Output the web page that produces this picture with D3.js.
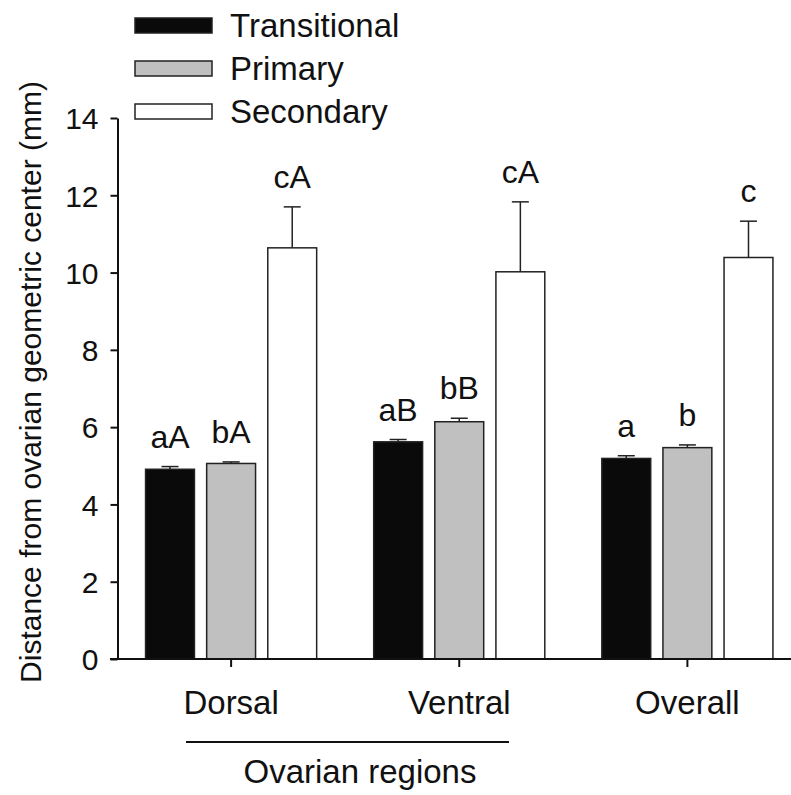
<!DOCTYPE html>
<html>
<head>
<meta charset="utf-8">
<script src="https://cdn.jsdelivr.net/npm/d3@7"></script>
<style>
  body { margin: 0; background: #fff; }
  text { font-family: "Liberation Sans", Arial, sans-serif; fill: #111; }
</style>
</head>
<body>
<script>
var regions = ["Dorsal", "Ventral", "Overall"];
var series = ["Transitional", "Primary", "Secondary"];
var colors = ["#0a0a0a", "#c0c0c0", "#ffffff"];

// mean and SE per series, in region order
var transitional = [4.91, 5.62, 5.19];
var primary = [5.06, 6.14, 5.47];
var secondary = [10.64, 10.02, 10.39];
var transitionalErr = [0.07, 0.06, 0.07];
var primaryErr = [0.04, 0.09, 0.07];
var secondaryErr = [1.06, 1.81, 0.94];

var transitionalLbl = ["aA", "aB", "a"];
var primaryLbl = ["bA", "bB", "b"];
var secondaryLbl = ["cA", "cA", "c"];

var yTicks = [0, 2, 4, 6, 8, 10, 12, 14];

var values = [transitional, primary, secondary],
    errors = [transitionalErr, primaryErr, secondaryErr],
    labels = [transitionalLbl, primaryLbl, secondaryLbl];

var width = 791, height = 795;

var svg = d3.select("body").append("svg")
    .attr("width", width)
    .attr("height", height);

var x0 = d3.scaleBand()
    .domain(regions)
    .range([117.5, 801])
    .paddingInner(0.25)
    .paddingOuter(0.123);

var x1 = d3.scaleBand()
    .domain(series)
    .range([0, x0.bandwidth()])
    .paddingInner(0.2);

var y = d3.scaleLinear()
    .domain([0, 14])
    .range([659, 118]);

// build flat rows for drawing
var rows = [];
regions.forEach(function(r, i) {
    series.forEach(function(s, j) {
        rows.push({ region: r, series: s, idx: j, v: values[j][i], e: errors[j][i], lbl: labels[j][i] });
    });
});

var bars = svg.append("g").selectAll(".bar")
    .data(rows)
    .enter().append("g")
    .attr("class", "bar")
    .attr("transform", function(d) { return "translate(" + (x0(d.region) + x1(d.series)) + ",0)"; });

// error bars (upper only)
bars.append("line")
    .attr("x1", x1.bandwidth() / 2)
    .attr("x2", x1.bandwidth() / 2)
    .attr("y1", function(d) { return y(d.v); })
    .attr("y2", function(d) { return y(d.v + d.e); })
    .attr("stroke", "#222")
    .attr("stroke-width", 1.5);

bars.append("line")
    .attr("x1", x1.bandwidth() / 2 - 8.5)
    .attr("x2", x1.bandwidth() / 2 + 8.5)
    .attr("y1", function(d) { return y(d.v + d.e); })
    .attr("y2", function(d) { return y(d.v + d.e); })
    .attr("stroke", "#222")
    .attr("stroke-width", 1.5);

bars.append("rect")
    .attr("x", 0)
    .attr("y", function(d) { return y(d.v); })
    .attr("width", x1.bandwidth())
    .attr("height", function(d) { return y(0) - y(d.v); })
    .attr("fill", function(d) { return colors[d.idx]; })
    .attr("stroke", "#222")
    .attr("stroke-width", 1.5);

bars.append("text")
    .attr("x", x1.bandwidth() / 2)
    .attr("y", function(d) { return y(d.v + d.e) - 19; })
    .attr("text-anchor", "middle")
    .style("font-size", "32px")
    .text(function(d) { return d.lbl; });

// y axis
var yAxis = d3.axisLeft(y)
    .tickValues(yTicks)
    .tickSize(7)
    .tickSizeOuter(0)
    .tickPadding(12);

var gy = svg.append("g")
    .attr("transform", "translate(117.5,0)")
    .call(yAxis);
gy.selectAll("text").style("font-size", "30px").attr("dy", "0.36em");
gy.selectAll("line, path").attr("stroke", "#111").attr("stroke-width", 2);

// x axis
var xAxis = d3.axisBottom(x0)
    .tickSize(8)
    .tickSizeOuter(0)
    .tickPadding(24);

var gx = svg.append("g")
    .attr("transform", "translate(0," + y(0) + ")")
    .call(xAxis);
gx.select(".domain").remove();
gx.append("line")
    .attr("x1", 110).attr("x2", x0.range()[1])
    .attr("stroke", "#111").attr("stroke-width", 2);
gx.selectAll("line").attr("stroke", "#111").attr("stroke-width", 2);
gx.selectAll("text").style("font-size", "33px");

// bracket under Dorsal + Ventral
svg.append("line")
    .attr("x1", 186).attr("x2", 509)
    .attr("y1", 742).attr("y2", 742)
    .attr("stroke", "#111").attr("stroke-width", 2);

svg.append("text")
    .attr("x", 360).attr("y", 783)
    .attr("text-anchor", "middle")
    .style("font-size", "33px")
    .text("Ovarian regions");

svg.append("text")
    .attr("transform", "translate(41," + 382 + ")rotate(-90)")
    .attr("text-anchor", "middle")
    .style("font-size", "30px")
    .text("Distance from ovarian geometric center (mm)");

// legend
var legend = svg.selectAll(".legend")
    .data(series)
    .enter().append("g")
    .attr("class", "legend")
    .attr("transform", function(d, i) { return "translate(135," + (18 + i * 43) + ")"; });

legend.append("rect")
    .attr("width", 77)
    .attr("height", 15)
    .attr("fill", function(d, i) { return colors[i]; })
    .attr("stroke", "#222")
    .attr("stroke-width", 1.5);

legend.append("text")
    .attr("x", 95)
    .attr("y", 19)
    .style("font-size", "33px")
    .text(function(d) { return d; });
</script>
</body>
</html>
